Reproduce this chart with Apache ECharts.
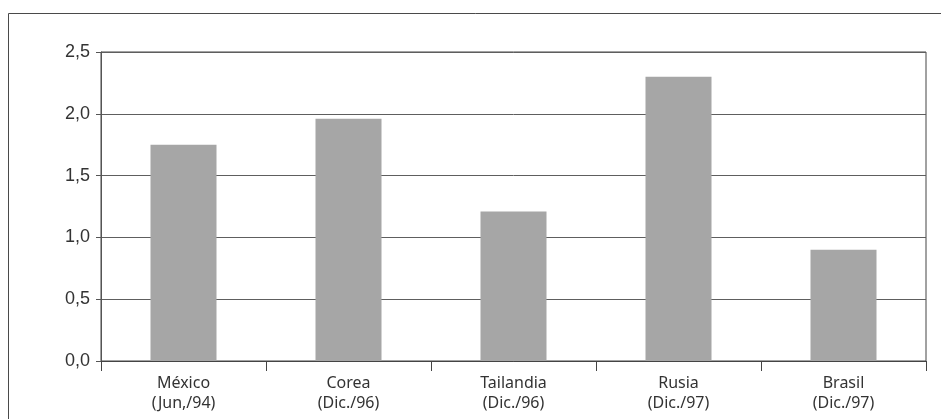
<!DOCTYPE html>
<html>
<head>
<meta charset="utf-8">
<script src="https://cdn.jsdelivr.net/npm/echarts@6/dist/echarts.min.js"></script>
<style>
  html, body { margin: 0; padding: 0; background: #ffffff; }
  #chart { width: 941px; height: 419px; }
</style>
</head>
<body>
<div id="chart"></div>
<script>
// Countries and crisis dates shown under each bar
const countries = ['México', 'Corea', 'Tailandia', 'Rusia', 'Brasil'];
const crisisDates = ['(Jun,/94)', '(Dic./96)', '(Dic./96)', '(Dic./97)', '(Dic./97)'];
// Bar heights
const values = [1.75, 1.96, 1.21, 2.30, 0.90];
// Value axis range
const yMin = 0;
const yMax = 2.5;
const yStep = 0.5;

const categories = countries.map((c, i) => c + '\n' + crisisDates[i]);

const chart = echarts.init(document.getElementById('chart'), null, { renderer: 'canvas' });
const catFont = '"Noto Sans", sans-serif';
const valFont = '"Liberation Sans", Arial, sans-serif';

chart.setOption({
  animation: false,
  backgroundColor: '#ffffff',
  graphic: [{
    type: 'polyline',
    shape: { points: [[8.5, 430], [8.5, 13.5], [945, 13.5]] },
    style: { stroke: '#4a4a4a', lineWidth: 1, fill: null },
    silent: true
  }],
  grid: {
    left: 101, right: 15, top: 52, bottom: 58,
    show: true, borderColor: '#444444', borderWidth: 1, backgroundColor: 'transparent'
  },
  xAxis: {
    type: 'category',
    data: categories,
    boundaryGap: true,
    axisLine: { show: true, lineStyle: { color: '#444444', width: 1 } },
    axisTick: { show: true, length: 10, alignWithLabel: false, lineStyle: { color: '#444444' } },
    axisLabel: {
      margin: 12, color: '#333333', fontFamily: catFont, fontSize: 16, lineHeight: 20, interval: 0
    },
    splitLine: { show: false }
  },
  yAxis: {
    type: 'value',
    min: yMin, max: yMax, interval: yStep,
    axisLine: { show: true, lineStyle: { color: '#555555', width: 1 } },
    axisTick: { show: true, length: 5, lineStyle: { color: '#555555' } },
    axisLabel: {
      margin: 11, color: '#333333', fontFamily: valFont, fontSize: 18,
      formatter: v => v.toFixed(1).replace('.', ',')
    },
    splitLine: { show: true, lineStyle: { color: '#5e5e5e', width: 1 } }
  },
  series: [{
    type: 'bar',
    data: values,
    barWidth: '40%',
    itemStyle: { color: '#a6a6a6' },
    silent: true
  }]
});
</script>
</body>
</html>
